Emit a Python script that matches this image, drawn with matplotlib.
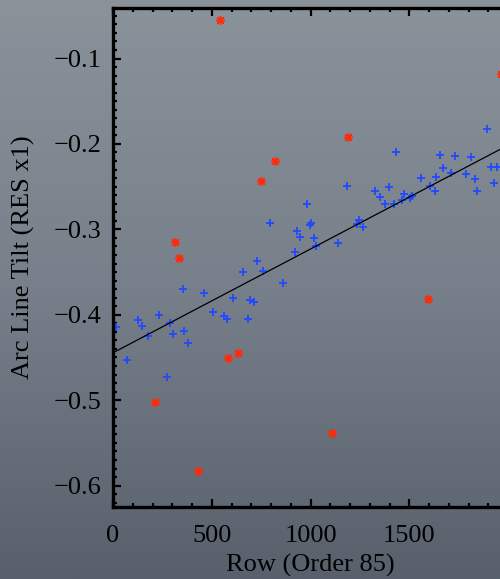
import numpy as np
import matplotlib
matplotlib.use("Agg")
import matplotlib.pyplot as plt
from matplotlib.ticker import MultipleLocator, FuncFormatter
from matplotlib.colors import LinearSegmentedColormap

# good arc lines (kept in the fit)
blue_x = [15, 71, 126, 146, 177, 232, 273, 288, 303, 359, 379, 354, 460, 505,
          561, 576, 682, 606, 692, 712, 657, 727, 757, 859, 793, 980, 1000, 995,
          934, 949, 1020, 1030, 919, 1141, 1247, 1237, 1268, 1187, 1328, 1399,
          1353, 1379, 1424, 1465, 1475, 1515, 1505, 1434, 1560, 1636, 1712, 1788,
          1833, 1929, 1606, 1631, 1843, 1656, 1732, 1813, 1672, 1914, 1944, 1894]
blue_y = [-0.414, -0.453, -0.406, -0.413, -0.425, -0.400, -0.473, -0.410, -0.422,
          -0.419, -0.433, -0.370, -0.375, -0.397, -0.401, -0.405, -0.405, -0.380,
          -0.383, -0.385, -0.350, -0.337, -0.349, -0.363, -0.293, -0.270, -0.292,
          -0.295, -0.302, -0.309, -0.310, -0.320, -0.327, -0.316, -0.289, -0.294,
          -0.297, -0.249, -0.255, -0.250, -0.262, -0.270, -0.270, -0.266, -0.259,
          -0.261, -0.263, -0.210, -0.240, -0.239, -0.234, -0.235, -0.241, -0.246,
          -0.249, -0.255, -0.255, -0.213, -0.214, -0.215, -0.228, -0.227, -0.227,
          -0.182]

# rejected lines
red_x = [540, 1965, 1192, 818, 747, 313, 333, 581, 631, 212, 429, 1111, 1596]
red_y = [-0.055, -0.118, -0.192, -0.220, -0.243, -0.315, -0.334, -0.451, -0.445,
         -0.502, -0.583, -0.538, -0.381]

# linear fit: tilt = a + b*row
fit_a = -0.4445
fit_b = 1.215e-4

x_tick_labels = {0: "0", 500: "500", 1000: "1000", 1500: "1500"}

plt.rcParams['font.family'] = ['Liberation Serif', 'DejaVu Serif']

fig = plt.figure(figsize=(5.0, 5.79), dpi=100)

# grey-blue backdrop
bg = fig.add_axes([0, 0, 1, 1], zorder=-1)
cmap = LinearSegmentedColormap.from_list("bg", ["#8a939a", "#77808a", "#57606b"])
grad = np.linspace(0, 1, 256).reshape(-1, 1)
bg.imshow(grad, aspect="auto", cmap=cmap, extent=[0, 1, 0, 1])
bg.axis("off")

ax = fig.add_axes([0.226, 0.1244, 0.79, 0.8616])
ax.patch.set_alpha(0)

ax.plot(blue_x, blue_y, linestyle="none", marker="+", ms=6.2, mew=1.3,
        color="#1f4aff")
ax.plot(red_x, red_y, linestyle="none", marker=(8, 2, 0), ms=6.5, mew=1.0,
        color="#ff2a0c")

xx = np.array([0, 2000])
ax.plot(xx, fit_a + fit_b * xx, color="black", lw=0.9)

ax.set_xlim(0, 2000)
ax.set_ylim(-0.625, -0.041)

ax.xaxis.set_major_locator(MultipleLocator(500))
ax.xaxis.set_minor_locator(MultipleLocator(100))
ax.xaxis.set_major_formatter(FuncFormatter(lambda v, p: x_tick_labels.get(int(round(v)), "")))
ax.yaxis.set_major_locator(MultipleLocator(0.1))
ax.yaxis.set_minor_locator(MultipleLocator(0.01))

ax.tick_params(which="both", direction="in", top=True, right=True,
               colors="black", labelsize=19)
ax.tick_params(which="major", length=6, width=1.6)
ax.tick_params(which="minor", length=3, width=1.6)
ax.tick_params(axis="x", pad=13)
ax.tick_params(axis="y", pad=8)

for s in ax.spines.values():
    s.set_linewidth(2.4)

ax.set_xlabel("Row (Order 85)", fontsize=19)
ax.set_ylabel("Arc Line Tilt (RES x1)", fontsize=19)
ax.xaxis.set_label_coords(0.5, -0.094)
ax.yaxis.set_label_coords(-0.197, 0.5)

fig.savefig("out.png", dpi=100)
